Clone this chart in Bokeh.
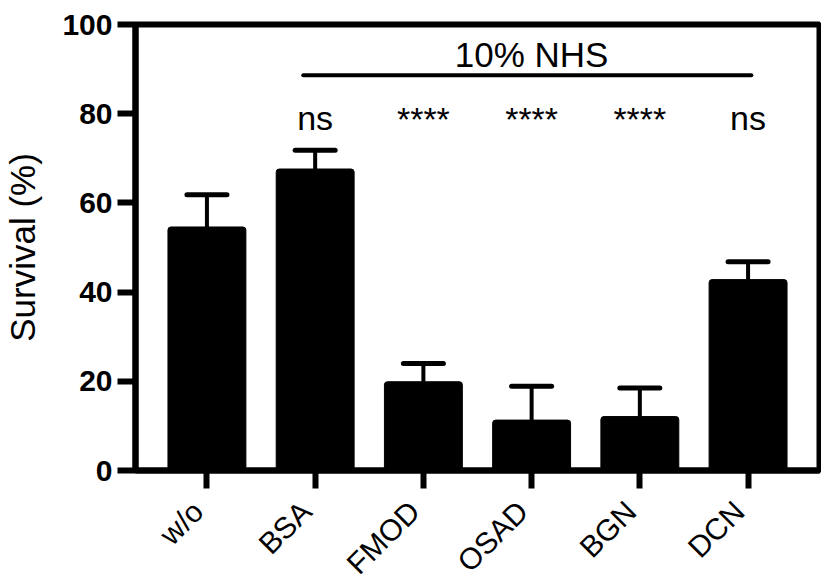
from bokeh.plotting import figure
from bokeh.models import (ColumnDataSource, FactorRange, Range1d, Whisker, TeeHead,
                          FixedTicker)
from bokeh.layouts import column
from bokeh.core.properties import value
from bokeh.embed import file_html
from bokeh.resources import INLINE
import math

# ---- data ----
categories = ["w/o", "BSA", "FMOD", "OSAD", "BGN", "DCN"]
survival_mean = [54.6, 67.6, 19.9, 11.3, 12.1, 42.8]
survival_err = [7.2, 4.2, 4.1, 7.6, 6.4, 4.0]
sig_labels = ["", "ns", "****", "****", "****", "ns"]
y_ticks = [0, 20, 40, 60, 80, 100]
group_label = "10% NHS"
group_start = "BSA"
group_end = "DCN"

FONT = "Liberation Sans"

upper = [m + e for m, e in zip(survival_mean, survival_err)]
src = ColumnDataSource(dict(cat=categories, mean=survival_mean, upper=upper))

xr = FactorRange(factors=categories, range_padding=0.16, range_padding_units="absolute")

# ---- main plot (frame, y axis, x ticks) ----
p = figure(width=821, height=490, output_backend="svg", toolbar_location=None,
           x_range=xr, y_range=Range1d(0, 100),
           min_border_left=133, min_border_right=2, min_border_top=24,
           min_border_bottom=20)

p.background_fill_color = "white"
p.border_fill_color = "white"
p.outline_line_color = "black"
p.outline_line_width = 6
p.xgrid.grid_line_color = None
p.ygrid.grid_line_color = None

# bars
p.vbar(x="cat", top="mean", width=0.72, source=src, fill_color="black",
       line_color="black", line_width=1, border_radius=3)

# error bars (upper only)
w = Whisker(source=src, base="cat", upper="upper", lower="mean",
            dimension="height", line_color="black", line_width=4,
            upper_head=TeeHead(size=40, line_width=5, line_color="black",
                               line_cap="round"),
            lower_head=None)
p.add_layout(w)

# significance labels
ns_idx = [i for i, s in enumerate(sig_labels) if s == "ns"]
st_idx = [i for i, s in enumerate(sig_labels) if s.startswith("*")]
p.text(x=[categories[i] for i in ns_idx], y=79.1, text=[sig_labels[i] for i in ns_idx],
       text_font=value(FONT), text_font_size="34px", text_align="center",
       text_baseline="alphabetic", text_color="black")
p.text(x=[categories[i] for i in st_idx], y=78.8, text=[sig_labels[i] for i in st_idx],
       text_font=value(FONT), text_font_size="34px", text_align="center",
       text_baseline="alphabetic", text_color="black")

# group line and label
p.line(x=[(group_start, -0.11), (group_end, 0.03)], y=[88.6, 88.6],
       line_color="black", line_width=4, line_cap="round")
p.text(x=["OSAD"], y=[93.2], text=[group_label], text_font=value(FONT),
       text_font_size="35px", text_align="center", text_baseline="alphabetic",
       text_color="black")

# axes
for ax in (p.xaxis[0], p.yaxis[0]):
    ax.axis_line_color = "black"
    ax.axis_line_width = 6
    ax.major_tick_line_color = "black"
    ax.major_tick_line_width = 6
    ax.major_tick_out = 18
    ax.major_tick_in = 0
    ax.minor_tick_line_color = None

ya = p.yaxis[0]
ya.ticker = FixedTicker(ticks=y_ticks)
ya.major_label_text_font = FONT
ya.major_label_text_font_size = "30px"
ya.major_label_text_font_style = "bold"
ya.major_label_text_color = "black"
ya.major_label_standoff = 5
ya.axis_label = "Survival (%)"
ya.axis_label_text_font = FONT
ya.axis_label_text_font_size = "35px"
ya.axis_label_text_font_style = "normal"
ya.axis_label_text_color = "black"
ya.axis_label_standoff = 17

# x axis keeps only its ticks; its labels are drawn rotated in the strip below
xa = p.xaxis[0]
xa.major_label_text_font_size = "1px"
xa.major_label_text_color = None
xa.major_label_standoff = 0

# ---- strip below: rotated category labels ----
# same x range and same y units as the main plot (continues below 0)
p2 = figure(width=821, height=89, output_backend="svg", toolbar_location=None,
            x_range=xr, y_range=Range1d(-24.44, -4.48),
            x_axis_location=None, y_axis_location=None,
            min_border_left=133, min_border_right=2, min_border_top=0,
            min_border_bottom=0)
p2.outline_line_color = None
p2.xgrid.grid_line_color = None
p2.ygrid.grid_line_color = None
p2.background_fill_color = "white"
p2.border_fill_color = "white"
p2.text(x=categories, y=-8.0, text=categories, angle=math.pi / 4, x_offset=-9,
        text_align="right", text_baseline="middle", text_font=value(FONT),
        text_font_size="30px", text_color="black")

layout = column(p, p2, spacing=0)
open("out.html", "w").write(file_html(layout, INLINE))
